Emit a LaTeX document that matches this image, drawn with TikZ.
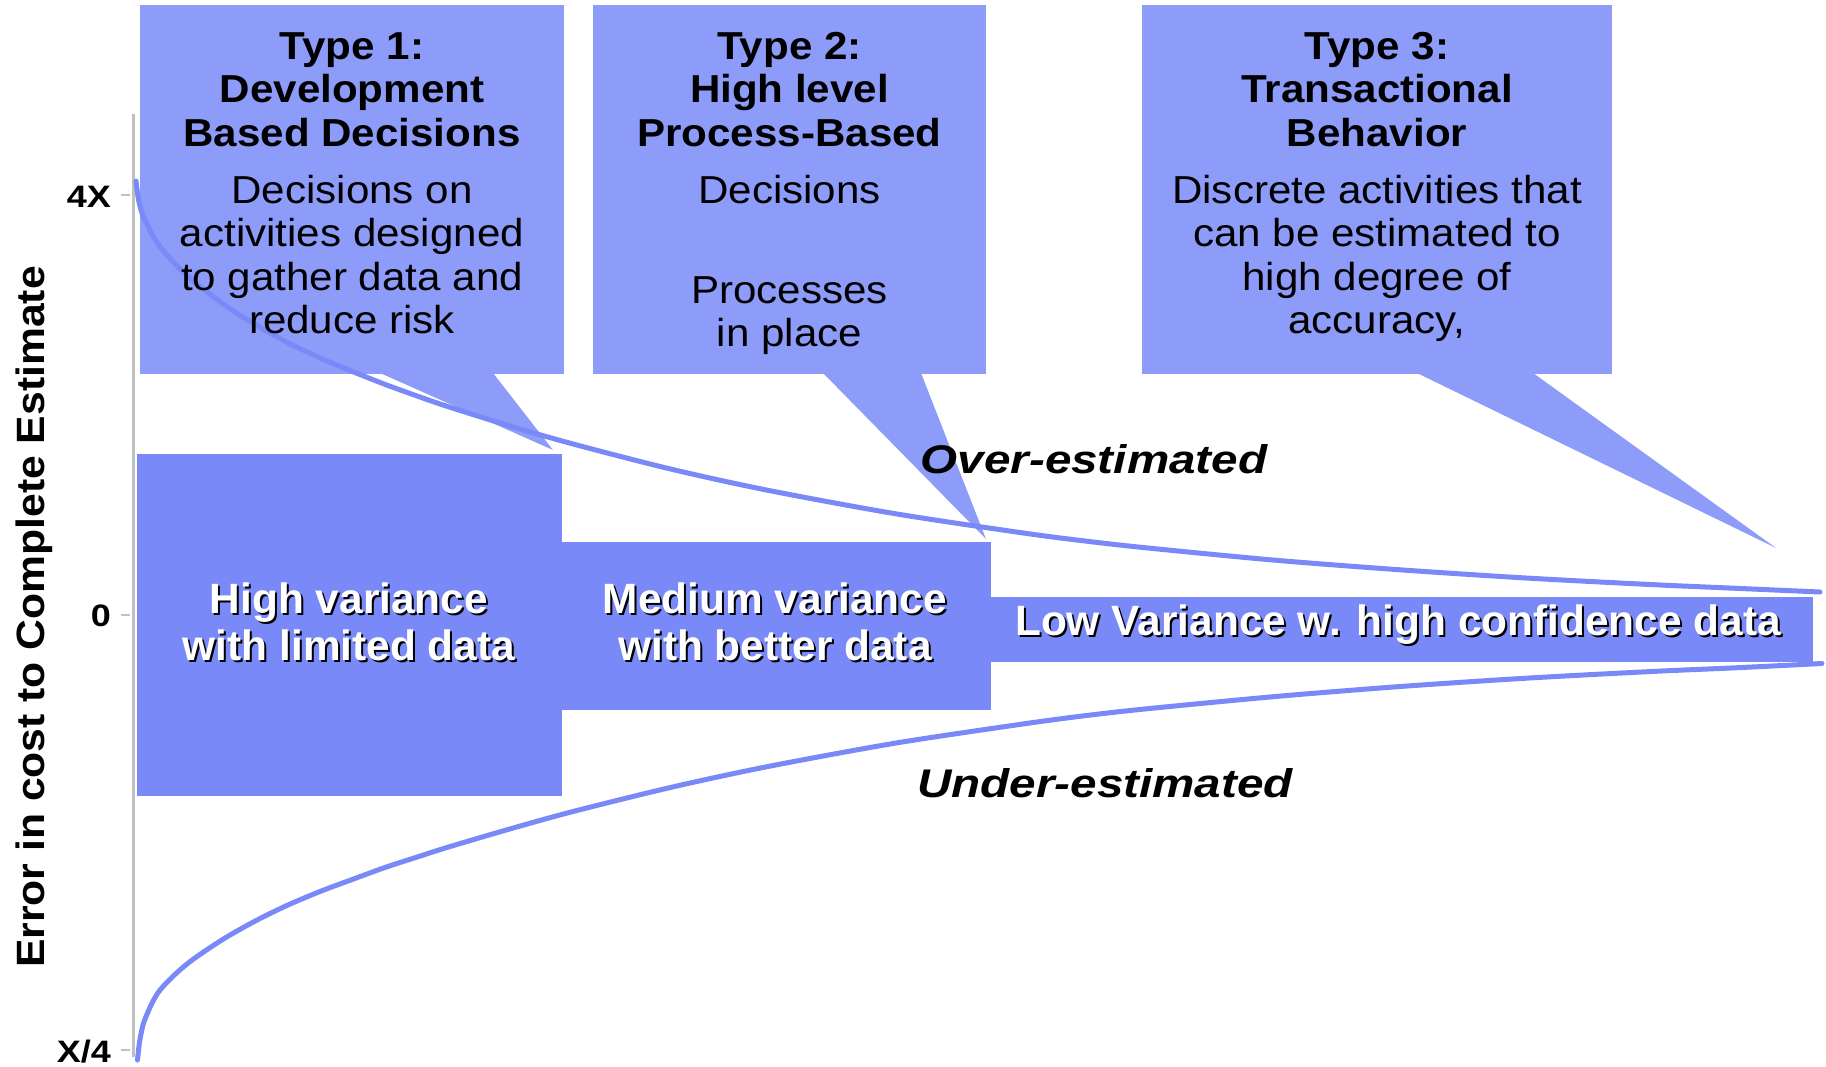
\documentclass[tikz,border=0pt]{standalone}
\usepackage{fontspec}
\setmainfont{Liberation Sans}
\newfontfamily\boxfont[FakeStretch=1.08]{Liberation Sans}
\newfontfamily\tagfont[FakeStretch=1.19]{Liberation Sans}
\newfontfamily\tickfont[FakeStretch=1.16]{Liberation Sans}
\definecolor{calloutfill}{RGB}{141,155,249}
\definecolor{bandfill}{RGB}{122,137,248}
\definecolor{axisgray}{RGB}{192,192,192}
\tikzset{
  callout/.style={fill=calloutfill},
  band/.style={fill=bandfill},
  hdr/.style={font=\boxfont\bfseries\fontsize{39}{43}\selectfont, anchor=base, inner sep=0pt},
  txt/.style={font=\boxfont\fontsize{39}{43}\selectfont, anchor=base, inner sep=0pt},
  bandlbl/.style={font=\bfseries\fontsize{42.4}{46}\selectfont, anchor=base, inner sep=0pt, text=white},
  bandshade/.style={font=\bfseries\fontsize{42.4}{46}\selectfont, anchor=base, inner sep=0pt, text=black},
  regionlbl/.style={font=\tagfont\bfseries\itshape\fontsize{40}{44}\selectfont, anchor=base, inner sep=0pt},
  ticklbl/.style={font=\tickfont\bfseries\fontsize{31}{34}\selectfont, anchor=base east, inner sep=0pt},
  tickmark/.style={draw=axisgray, line width=2pt},
  cone/.style={draw=bandfill, line width=5pt, line cap=round, line join=round},
}
\begin{document}
\begin{tikzpicture}[x=1pt,y=-1pt]
\useasboundingbox (0,0) rectangle (1826,1066);

% callout boxes with their pointers
\fill[callout] (140,5) rectangle (564,374);
\fill[callout] (380,373) -- (493,373) -- (553,450) -- cycle;
\fill[callout] (593,5) rectangle (986,374);
\fill[callout] (823,373) -- (921,373) -- (986,539) -- cycle;
\fill[callout] (1142,5) rectangle (1612,374);
\fill[callout] (1417,373) -- (1533,373) -- (1776,548) -- cycle;

% variance bands
\fill[band] (137,454) rectangle (562,796);
\fill[band] (561,542) rectangle (991,710);
\fill[band] (990,597) rectangle (1813,662);

% vertical axis and ticks
\draw[draw=axisgray, line width=2.5pt] (133.5,114) -- (133.5,1057);
\draw[tickmark] (121,195) -- (130,195);
\draw[tickmark] (121,615) -- (130,615);
\draw[tickmark] (121,1050) -- (130,1050);

% cone of uncertainty: upper and lower bounds
\draw[cone] plot[smooth, tension=0.5] coordinates {
  (136,181) (137.5,193.3) (139,201.9) (142,213.1) (148,226.2) (154,237.7)
  (161,248) (176,264.8) (193,280.5) (224,304.7) (257,325.7) (288,342.7)
  (320,357.9) (352,371.3) (384,384) (416,395.6) (448,406.6) (511,426.3)
  (575,444.5) (671,469.1) (767,490.1) (894,513.5) (1022,532.8) (1085,541)
  (1148,548) (1274,560.1) (1400,569.8) (1526,578) (1652,584.6) (1736,588.3)
  (1820,592)};
\draw[cone] plot[smooth, tension=0.5] coordinates {
  (137.5,1060) (139,1046.2) (140.5,1036.4) (143.5,1023.3) (149.5,1008.4)
  (155.5,996.7) (162.5,987.1) (177.5,972.1) (194.5,958.3) (225.5,937.7)
  (258.5,919.3) (289.5,904.3) (321.5,890.9) (353.5,879) (385.5,867.3)
  (417.5,856.9) (449.5,846.7) (512.5,828.2) (576.5,810.6) (672.5,787)
  (768.5,766.4) (895.5,743.1) (1023.5,723.9) (1086.5,715.5) (1149.5,708.5)
  (1275.5,696.5) (1401.5,686.4) (1527.5,678.1) (1653.5,671.4) (1737.5,667.7)
  (1822,663.5)};

% axis labels
\node[ticklbl] (t4x) at (111,207) {4X};
\node[ticklbl] (t0) at (111,626) {0};
\node[ticklbl] (tq) at (111,1062) {X/4};
\node[rotate=90, font=\boxfont\bfseries\fontsize{39.5}{43}\selectfont, inner sep=0pt]
  (ytitle) at (34,617) {Error in cost to Complete Estimate};

% type 1
\node[hdr] (h1a) at (352,59) {Type 1:};
\node[hdr] (h1b) at (352,102.5) {Development};
\node[hdr] (h1c) at (352,146) {Based Decisions};
\node[txt] (b1a) at (352,203) {Decisions on};
\node[txt] (b1b) at (352,246.5) {activities designed};
\node[txt] (b1c) at (352,290) {to gather data and};
\node[txt] (b1d) at (352,333.5) {reduce risk};

% type 2
\node[hdr] (h2a) at (789.5,59) {Type 2:};
\node[hdr] (h2b) at (789.5,102.5) {High level};
\node[hdr] (h2c) at (789.5,146) {Process-Based};
\node[txt] (b2a) at (789.5,203) {Decisions};
\node[txt] (b2b) at (789.5,303.5) {Processes};
\node[txt] (b2c) at (789.5,346.5) {in place};

% type 3
\node[hdr] (h3a) at (1377,59) {Type 3:};
\node[hdr] (h3b) at (1377,102.5) {Transactional};
\node[hdr] (h3c) at (1377,146) {Behavior};
\node[txt] (b3a) at (1377,203) {Discrete activities that};
\node[txt] (b3b) at (1377,246.5) {can be estimated to};
\node[txt] (b3c) at (1377,290) {high degree of};
\node[txt] (b3d) at (1377,333.5) {accuracy,};

% band labels with drop shadow
\node[bandshade] (v1as) at (351,615.5) {High variance};
\node[bandshade] (v1bs) at (351,662.5) {with limited data};
\node[bandlbl] (v1a) at (349,613) {High variance};
\node[bandlbl] (v1b) at (349,660) {with limited data};
\node[bandshade] (v2as) at (777,615.5) {Medium variance};
\node[bandshade] (v2bs) at (777,662.5) {with better data};
\node[bandlbl] (v2a) at (775,613) {Medium variance};
\node[bandlbl] (v2b) at (775,660) {with better data};
\node[bandshade] (v3s) at (1400,637.5) {Low Variance w. high confidence data};
\node[bandlbl] (v3) at (1398,635) {Low Variance w. high confidence data};

% region labels
\node[regionlbl] (over) at (1094,473) {Over-estimated};
\node[regionlbl] (under) at (1105,797) {Under-estimated};
\end{tikzpicture}
\end{document}
